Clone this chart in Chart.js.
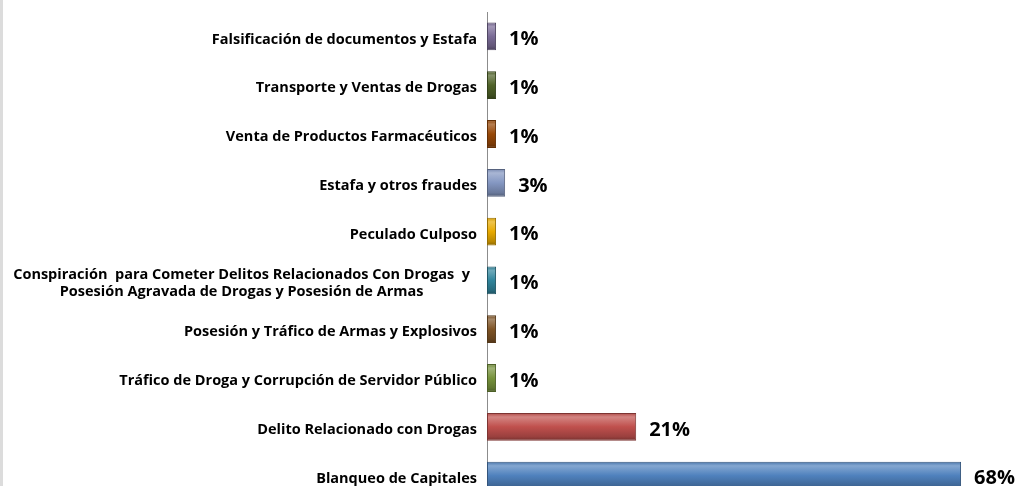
<!DOCTYPE html>
<html>
<head>
<meta charset="utf-8">
<script src="https://cdn.jsdelivr.net/npm/chart.js@4.4.1/dist/chart.umd.min.js"></script>
<style>
  body { margin: 0; background: #fff; overflow: hidden; }
  #wrap { position: relative; width: 1016px; height: 486px; overflow: hidden; }
  #wrap canvas { position: absolute; left: 0; top: 0; }
  #edge { position: absolute; left: 0; top: 0; width: 3px; height: 486px; background: #dcdcdc; }
</style>
</head>
<body>
<div id="wrap">
  <canvas id="delitosChart" width="1016" height="500"></canvas>
  <div id="edge"></div>
</div>
<script>
// categories, top to bottom
const categories = [
    "Falsificación de documentos y Estafa",
    "Transporte y Ventas de Drogas",
    "Venta de Productos Farmacéuticos",
    "Estafa y otros fraudes",
    "Peculado Culposo",
    ["Conspiración  para Cometer Delitos Relacionados Con Drogas  y", "Posesión Agravada de Drogas y Posesión de Armas"],
    "Posesión y Tráfico de Armas y Explosivos",
    "Tráfico de Droga y Corrupción de Servidor Público",
    "Delito Relacionado con Drogas",
    "Blanqueo de Capitales"
];
// percent of cases (labels show rounded value)
const percentages = [1.3, 1.3, 1.3, 2.6, 1.3, 1.3, 1.3, 1.3, 21.4, 68];
const barColors = ["#7a6b96", "#4f6228", "#984807", "#8497c2", "#e8aa00", "#31859c", "#7f5426", "#77933c", "#c0504d", "#4f81bd"];

function shade(hex, amt) {
    const n = parseInt(hex.slice(1), 16);
    let r = (n >> 16) & 255, g = (n >> 8) & 255, b = n & 255;
    const f = (c) => Math.max(0, Math.min(255, Math.round(amt > 0 ? c + (255 - c) * amt : c * (1 + amt))));
    return "rgb(" + f(r) + "," + f(g) + "," + f(b) + ")";
}

// vertical gradient to mimic the bevelled bars
function barFill(context) {
    const chart = context.chart;
    const base = barColors[context.dataIndex];
    if (!chart.chartArea || !chart.scales.y) return base;
    const y = chart.scales.y.getPixelForValue(context.dataIndex);
    const half = 14;
    const g = chart.ctx.createLinearGradient(0, y - half, 0, y + half);
    g.addColorStop(0, shade(base, -0.1));
    g.addColorStop(0.15, shade(base, 0.3));
    g.addColorStop(0.5, base);
    g.addColorStop(0.85, shade(base, -0.2));
    g.addColorStop(1, shade(base, -0.4));
    return g;
}

// category labels: multi-line ones are centred as a block, like the original
const categoryLabels = {
    id: "categoryLabels",
    afterDraw(chart) {
        const ctx = chart.ctx;
        const y = chart.scales.y;
        const lineH = 17.7;
        ctx.save();
        ctx.font = "bold 14.5px 'Open Sans'";
        ctx.fillStyle = "#000";
        ctx.textBaseline = "middle";
        ctx.textAlign = "center";
        categories.forEach((label, i) => {
            const lines = Array.isArray(label) ? label : [label];
            const right = y.right - (lines.length > 1 ? 17 : 10);
            const w = Math.max(...lines.map((l) => ctx.measureText(l).width));
            const cx = right - w / 2;
            const cy = y.getPixelForValue(i) + 3;
            lines.forEach((l, k) => {
                ctx.fillText(l, cx, cy + (k - (lines.length - 1) / 2) * lineH);
            });
        });
        ctx.restore();
    }
};

// value labels to the right of each bar
const valueLabels = {
    id: "valueLabels",
    afterDatasetsDraw(chart) {
        const ctx = chart.ctx;
        const meta = chart.getDatasetMeta(0);
        ctx.save();
        ctx.font = "bold 20px 'Open Sans'";
        ctx.fillStyle = "#000";
        ctx.textBaseline = "middle";
        meta.data.forEach((bar, i) => {
            ctx.fillText(Math.round(percentages[i]) + "%", bar.x + 13, bar.y + 3);
        });
        ctx.restore();
    }
};

const ctx = document.getElementById("delitosChart").getContext("2d");
new Chart(ctx, {
    type: "bar",
    data: {
        labels: categories,
        datasets: [{
            data: percentages,
            backgroundColor: barFill,
            borderColor: barColors.map((c) => shade(c, -0.35)),
            borderWidth: 1,
            borderSkipped: false,
            barPercentage: 0.57,
            categoryPercentage: 1
        }]
    },
    options: {
        indexAxis: "y",
        responsive: false,
        animation: false,
        layout: { padding: { left: 0, right: 41, top: 12, bottom: 0 } },
        plugins: { legend: { display: false }, tooltip: { enabled: false } },
        scales: {
            x: {
                display: false,
                min: 0,
                max: 70
            },
            y: {
                afterFit: (scale) => { scale.width = 487; },
                grid: { display: false, drawTicks: false },
                border: { display: true, color: "#8c8c8c", width: 1 },
                ticks: { display: false }
            }
        }
    },
    plugins: [valueLabels, categoryLabels]
});
</script>
</body>
</html>
